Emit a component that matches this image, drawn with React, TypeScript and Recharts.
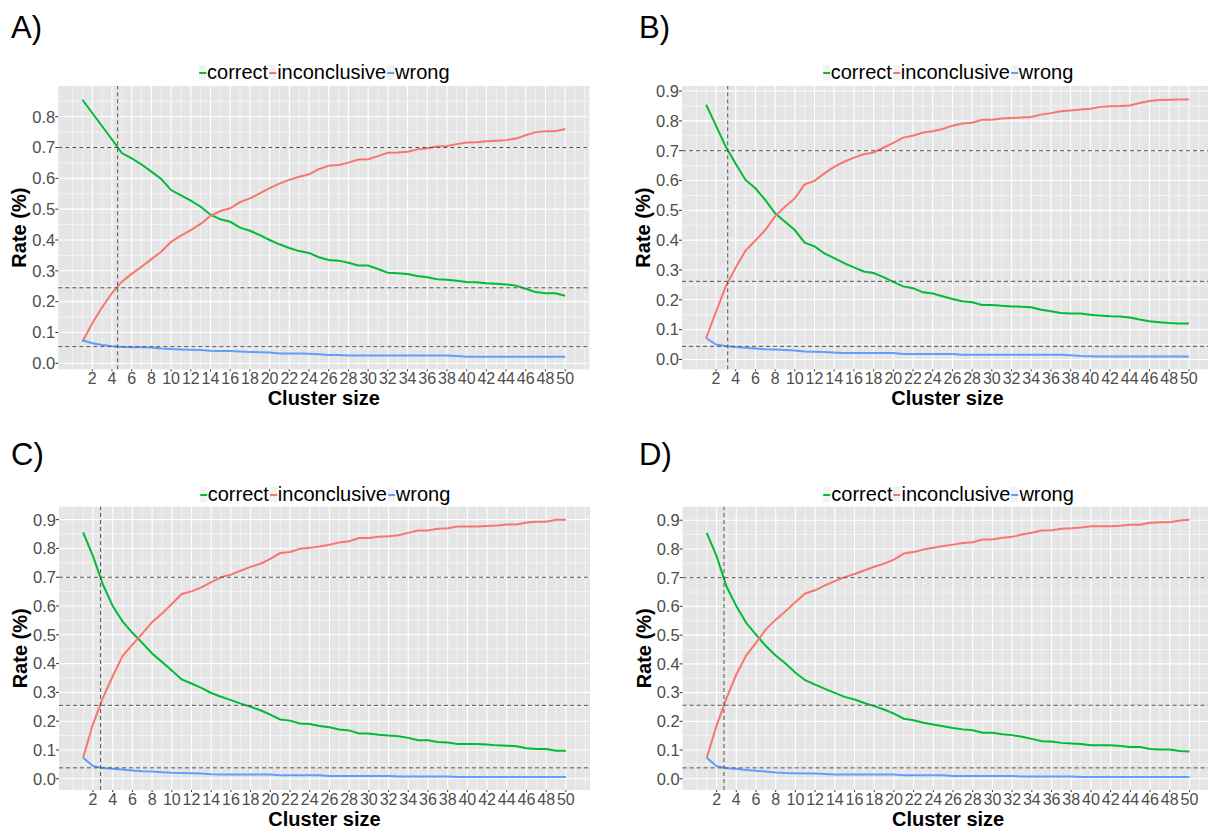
import React from 'react';
import { LineChart, Line, XAxis, YAxis, CartesianGrid, ReferenceLine, Label } from 'recharts';

// ---------- data ----------
const clusterSizes = [1, 2, 3, 4, 5, 6, 7, 8, 9, 10, 11, 12, 13, 14, 15, 16, 17, 18, 19, 20, 21, 22, 23, 24, 25, 26, 27, 28, 29, 30, 31, 32, 33, 34, 35, 36, 37, 38, 39, 40, 41, 42, 43, 44, 45, 46, 47, 48, 49, 50];
const xTicks = [2, 4, 6, 8, 10, 12, 14, 16, 18, 20, 22, 24, 26, 28, 30, 32, 34, 36, 38, 40, 42, 44, 46, 48, 50];
const xMinorGrid = [0, 1, 3, 5, 7, 9, 11, 13, 15, 17, 19, 21, 23, 25, 27, 29, 31, 33, 35, 37, 39, 41, 43, 45, 47, 49, 51, 52];
const yTicksTo08 = [0, 0.1, 0.2, 0.3, 0.4, 0.5, 0.6, 0.7, 0.8];
const yTicksTo09 = [0, 0.1, 0.2, 0.3, 0.4, 0.5, 0.6, 0.7, 0.8, 0.9];
const yMinorGrid = [0.05, 0.15, 0.25, 0.35, 0.45, 0.55, 0.65, 0.75, 0.85];
const seriesNames = ['correct', 'inconclusive', 'wrong'];
const seriesColors = ['#00BA38', '#F8766D', '#619CFF'];

const correctA = [0.855, 0.812, 0.769, 0.726, 0.682, 0.665, 0.645, 0.622, 0.598, 0.562, 0.545, 0.528, 0.508, 0.482, 0.467, 0.459, 0.44, 0.43, 0.416, 0.4, 0.386, 0.374, 0.364, 0.358, 0.344, 0.335, 0.333, 0.326, 0.317, 0.317, 0.306, 0.294, 0.292, 0.29, 0.283, 0.279, 0.273, 0.271, 0.268, 0.264, 0.263, 0.26, 0.258, 0.256, 0.252, 0.242, 0.231, 0.227, 0.227, 0.219];
const inconclusiveA = [0.07, 0.13, 0.182, 0.228, 0.265, 0.29, 0.313, 0.338, 0.362, 0.394, 0.414, 0.432, 0.452, 0.478, 0.494, 0.503, 0.523, 0.535, 0.551, 0.568, 0.583, 0.595, 0.605, 0.613, 0.63, 0.641, 0.643, 0.651, 0.661, 0.662, 0.672, 0.683, 0.684, 0.686, 0.694, 0.698, 0.703, 0.705, 0.711, 0.716, 0.717, 0.72, 0.722, 0.724, 0.729, 0.74, 0.75, 0.753, 0.753, 0.76];
const wrongA = [0.075, 0.065, 0.059, 0.055, 0.053, 0.052, 0.052, 0.051, 0.048, 0.046, 0.045, 0.044, 0.043, 0.041, 0.04, 0.04, 0.038, 0.037, 0.036, 0.035, 0.032, 0.032, 0.032, 0.031, 0.029, 0.027, 0.027, 0.025, 0.025, 0.025, 0.025, 0.025, 0.025, 0.025, 0.025, 0.025, 0.025, 0.025, 0.024, 0.021, 0.021, 0.021, 0.021, 0.021, 0.021, 0.021, 0.021, 0.021, 0.021, 0.021];

const correctB = [0.854, 0.784, 0.713, 0.656, 0.602, 0.574, 0.535, 0.49, 0.462, 0.434, 0.392, 0.379, 0.356, 0.34, 0.323, 0.309, 0.295, 0.29, 0.276, 0.26, 0.245, 0.239, 0.225, 0.221, 0.212, 0.203, 0.195, 0.192, 0.183, 0.183, 0.18, 0.178, 0.177, 0.175, 0.167, 0.162, 0.156, 0.154, 0.154, 0.15, 0.147, 0.145, 0.144, 0.141, 0.134, 0.128, 0.125, 0.122, 0.121, 0.121];
const inconclusiveB = [0.072, 0.16, 0.245, 0.308, 0.365, 0.399, 0.434, 0.48, 0.512, 0.54, 0.587, 0.599, 0.624, 0.646, 0.663, 0.677, 0.688, 0.694, 0.71, 0.726, 0.744, 0.75, 0.761, 0.765, 0.773, 0.784, 0.791, 0.794, 0.804, 0.804, 0.808, 0.81, 0.811, 0.813, 0.821, 0.826, 0.832, 0.835, 0.838, 0.841, 0.847, 0.849, 0.85, 0.852, 0.86, 0.867, 0.87, 0.871, 0.872, 0.872];
const wrongB = [0.072, 0.05, 0.045, 0.042, 0.039, 0.037, 0.034, 0.033, 0.032, 0.03, 0.027, 0.026, 0.025, 0.023, 0.022, 0.022, 0.022, 0.022, 0.022, 0.022, 0.018, 0.018, 0.018, 0.018, 0.018, 0.018, 0.016, 0.016, 0.016, 0.016, 0.016, 0.016, 0.016, 0.016, 0.016, 0.016, 0.016, 0.014, 0.012, 0.011, 0.01, 0.01, 0.01, 0.01, 0.01, 0.01, 0.01, 0.01, 0.01, 0.01];

const correctC = [0.856, 0.773, 0.675, 0.6, 0.547, 0.507, 0.472, 0.435, 0.406, 0.376, 0.345, 0.331, 0.316, 0.298, 0.285, 0.273, 0.261, 0.25, 0.238, 0.223, 0.206, 0.202, 0.192, 0.19, 0.183, 0.179, 0.171, 0.168, 0.157, 0.157, 0.153, 0.15, 0.148, 0.142, 0.134, 0.134, 0.128, 0.126, 0.121, 0.121, 0.121, 0.119, 0.116, 0.115, 0.113, 0.106, 0.103, 0.103, 0.097, 0.097];
const inconclusiveC = [0.073, 0.19, 0.28, 0.356, 0.426, 0.466, 0.504, 0.544, 0.574, 0.607, 0.642, 0.651, 0.665, 0.683, 0.7, 0.709, 0.723, 0.736, 0.747, 0.764, 0.784, 0.788, 0.799, 0.802, 0.807, 0.813, 0.821, 0.825, 0.836, 0.836, 0.841, 0.842, 0.846, 0.854, 0.862, 0.862, 0.868, 0.87, 0.876, 0.876, 0.876, 0.878, 0.88, 0.883, 0.883, 0.89, 0.893, 0.893, 0.9, 0.9];
const wrongC = [0.073, 0.044, 0.037, 0.035, 0.032, 0.029, 0.026, 0.025, 0.023, 0.021, 0.02, 0.019, 0.018, 0.016, 0.015, 0.015, 0.015, 0.015, 0.015, 0.015, 0.012, 0.012, 0.012, 0.012, 0.012, 0.01, 0.01, 0.01, 0.01, 0.01, 0.01, 0.01, 0.008, 0.008, 0.008, 0.008, 0.008, 0.008, 0.006, 0.006, 0.006, 0.006, 0.006, 0.006, 0.006, 0.006, 0.006, 0.006, 0.006, 0.006];

const correctD = [0.856, 0.775, 0.67, 0.601, 0.543, 0.502, 0.462, 0.429, 0.401, 0.369, 0.343, 0.328, 0.313, 0.299, 0.285, 0.276, 0.264, 0.253, 0.241, 0.227, 0.209, 0.204, 0.195, 0.189, 0.183, 0.177, 0.172, 0.169, 0.16, 0.16, 0.155, 0.152, 0.146, 0.139, 0.131, 0.13, 0.125, 0.123, 0.121, 0.117, 0.117, 0.117, 0.114, 0.111, 0.111, 0.104, 0.102, 0.102, 0.097, 0.095];
const inconclusiveD = [0.073, 0.185, 0.28, 0.363, 0.429, 0.473, 0.52, 0.554, 0.583, 0.615, 0.645, 0.656, 0.673, 0.688, 0.702, 0.713, 0.725, 0.738, 0.749, 0.763, 0.784, 0.789, 0.798, 0.804, 0.81, 0.815, 0.821, 0.823, 0.833, 0.833, 0.839, 0.842, 0.85, 0.856, 0.864, 0.865, 0.87, 0.872, 0.875, 0.879, 0.879, 0.879, 0.881, 0.884, 0.884, 0.891, 0.893, 0.893, 0.899, 0.902];
const wrongD = [0.073, 0.044, 0.037, 0.035, 0.031, 0.028, 0.025, 0.022, 0.02, 0.019, 0.018, 0.018, 0.017, 0.015, 0.015, 0.015, 0.015, 0.015, 0.015, 0.015, 0.012, 0.012, 0.012, 0.012, 0.012, 0.01, 0.01, 0.01, 0.01, 0.01, 0.01, 0.01, 0.008, 0.008, 0.008, 0.008, 0.008, 0.008, 0.006, 0.006, 0.006, 0.006, 0.006, 0.006, 0.006, 0.006, 0.006, 0.006, 0.006, 0.006];

const cutoffA = 4.57;
const cutoffB = 3.19;
const cutoffC = 2.77;
const cutoffD = 2.75;
const levelsA = [0.7, 0.245, 0.054];
const levelsB = [0.7, 0.262, 0.044];
const levelsC = [0.7, 0.255, 0.038];
const levelsD = [0.7, 0.256, 0.038];

const panelLetters = ['A)', 'B)', 'C)', 'D)'];
const xTitle = 'Cluster size';
const yTitle = 'Rate (%)';

// ---------- helpers ----------
const buildRows = (c: number[], inc: number[], w: number[]) =>
  clusterSizes.map((x, i) => ({ x, correct: c[i], inconclusive: inc[i], wrong: w[i] }));

const FONT = '"Liberation Sans", Arial, Helvetica, sans-serif';

type PanelCfg = {
  letter: string;
  rows: any[];
  cutoff: number;
  levels: number[];
  yDomain: [number, number];
  yTicks: number[];
  left: number;
  top: number;
  width: number;
  height: number;
  margin: { top: number; right: number; bottom: number; left: number };
  yAxisWidth: number;
  letterLeft: number;
  letterTop: number;
  legendTop: number;
};

const panels: PanelCfg[] = [
  {
    letter: panelLetters[0], rows: buildRows(correctA, inconclusiveA, wrongA), cutoff: cutoffA, levels: levelsA,
    yDomain: [-0.0195, 0.8996], yTicks: yTicksTo08,
    left: 0, top: 0, width: 604, height: 416,
    margin: { top: 86, right: 14.7, bottom: 6.7, left: 0 }, yAxisWidth: 58.3,
    letterLeft: 11, letterTop: 12, legendTop: 62,
  },
  {
    letter: panelLetters[1], rows: buildRows(correctB, inconclusiveB, wrongB), cutoff: cutoffB, levels: levelsB,
    yDomain: [-0.033, 0.917], yTicks: yTicksTo09,
    left: 604, top: 0, width: 624, height: 416,
    margin: { top: 86, right: 15, bottom: 6.7, left: 20 }, yAxisWidth: 58,
    letterLeft: 35, letterTop: 12, legendTop: 62,
  },
  {
    letter: panelLetters[2], rows: buildRows(correctC, inconclusiveC, wrongC), cutoff: cutoffC, levels: levelsC,
    yDomain: [-0.039, 0.945], yTicks: yTicksTo09,
    left: 0, top: 416, width: 604, height: 417,
    margin: { top: 90.7, right: 14, bottom: 3, left: 0 }, yAxisWidth: 59,
    letterLeft: 11, letterTop: 23, legendTop: 68,
  },
  {
    letter: panelLetters[3], rows: buildRows(correctD, inconclusiveD, wrongD), cutoff: cutoffD, levels: levelsD,
    yDomain: [-0.039, 0.947], yTicks: yTicksTo09,
    left: 604, top: 416, width: 624, height: 417,
    margin: { top: 90.7, right: 14.4, bottom: 3, left: 20 }, yAxisWidth: 58.6,
    letterLeft: 35, letterTop: 23, legendTop: 68,
  },
];

const LegendRow = () => (
  <div style={{ display: 'flex', alignItems: 'center', fontFamily: FONT, fontSize: 20, lineHeight: '20px', color: '#000', whiteSpace: 'nowrap' }}>
    {seriesNames.map((n, i) => (
      <React.Fragment key={n}>
        <span style={{ display: 'inline-block', width: 7, height: 15, background: '#F2F2F2', position: 'relative', margin: '0 1px 0 1px' }}>
          <span style={{ position: 'absolute', left: 0, right: 0, top: 7, height: 2, background: seriesColors[i] }} />
        </span>
        <span>{n}</span>
      </React.Fragment>
    ))}
  </div>
);

const Panel = ({ p }: { p: PanelCfg }) => {
  const plotLeft = p.margin.left + p.yAxisWidth;
  const plotRight = p.width - p.margin.right;
  const plotCenter = (plotLeft + plotRight) / 2;
  return (
    <div style={{ position: 'absolute', left: p.left, top: p.top, width: p.width, height: p.height }}>
      <div style={{ position: 'absolute', left: p.letterLeft, top: p.letterTop, fontFamily: FONT, fontSize: 31, lineHeight: '31px', color: '#000' }}>
        {p.letter}
      </div>
      <div style={{ position: 'absolute', left: plotCenter, top: p.legendTop, transform: 'translateX(-50%)' }}>
        <LegendRow />
      </div>
      <LineChart width={p.width} height={p.height} data={p.rows} margin={p.margin}>
        <CartesianGrid
          fill="#E5E5E5"
          stroke="#FFFFFF"
          strokeWidth={0.55}
          verticalValues={xMinorGrid}
          horizontalValues={yMinorGrid}
        />
        <CartesianGrid
          stroke="#FFFFFF"
          strokeWidth={1.1}
          verticalValues={xTicks}
          horizontalValues={p.yTicks}
        />
        <XAxis
          dataKey="x"
          type="number"
          domain={[-1.45, 52.45]}
          ticks={xTicks}
          interval={0}
          allowDataOverflow
          height={40}
          axisLine={false}
          tickSize={2}
          tickMargin={1.5}
          tickLine={{ stroke: '#333333' }}
          tick={{ fill: '#4D4D4D', fontSize: 16, fontFamily: FONT }}
        >
          <Label
            content={(props: any) => {
              const vb = props.viewBox;
              return (
                <text x={vb.x + vb.width / 2} y={vb.y + 36} textAnchor="middle" fontFamily={FONT} fontSize={20} fontWeight="bold" fill="#000">
                  {xTitle}
                </text>
              );
            }}
          />
        </XAxis>
        <YAxis
          type="number"
          domain={p.yDomain}
          ticks={p.yTicks}
          interval={0}
          allowDataOverflow
          width={p.yAxisWidth}
          axisLine={false}
          tickSize={3}
          tickMargin={0}
          tickLine={{ stroke: '#333333' }}
          tick={{ fill: '#4D4D4D', fontSize: 16.5, fontFamily: FONT }}
          tickFormatter={(v: number) => v.toFixed(1)}
        >
          <Label
            content={(props: any) => {
              const vb = props.viewBox;
              const cx = vb.x + vb.width - 39;
              const cy = vb.y + vb.height / 2;
              return (
                <text x={cx} y={cy} transform={`rotate(-90, ${cx}, ${cy})`} textAnchor="middle" dominantBaseline="central" fontFamily={FONT} fontSize={20} fontWeight="bold" fill="#000">
                  {yTitle}
                </text>
              );
            }}
          />
        </YAxis>
        {seriesNames.map((n, i) => (
          <Line key={n} type="linear" dataKey={n} stroke={seriesColors[i]} strokeWidth={2} dot={false} activeDot={false} isAnimationActive={false} />
        ))}
        {p.levels.map((v) => (
          <ReferenceLine key={'h' + v} y={v} stroke="#555555" strokeWidth={1} strokeDasharray="4 3" />
        ))}
        <ReferenceLine x={p.cutoff} stroke="#555555" strokeWidth={1} strokeDasharray="4 3" />
      </LineChart>
    </div>
  );
};

export default function App() {
  return (
    <div style={{ position: 'absolute', left: 0, top: 0, width: 1208, height: 833, overflow: 'hidden', background: '#FFFFFF' }}>
      {panels.map((p) => (
        <Panel key={p.letter} p={p} />
      ))}
    </div>
  );
}
